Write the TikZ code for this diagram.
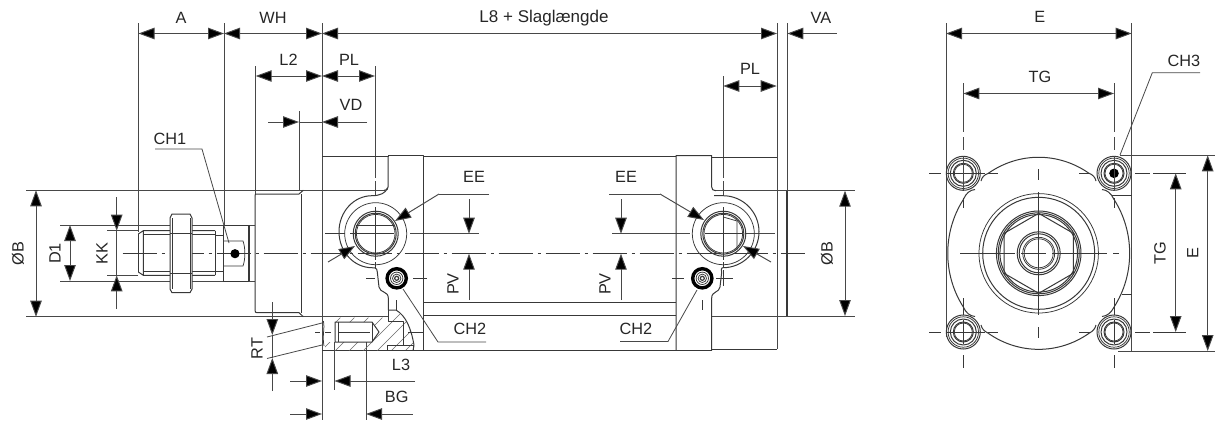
\documentclass[tikz,border=0pt]{standalone}
\usepackage{fontspec}
\setmainfont{Liberation Sans}
\usetikzlibrary{arrows.meta}
\definecolor{ink}{HTML}{383838}
\definecolor{dimink}{HTML}{484848}
\tikzset{
  outline/.style={draw=ink,line width=1pt,line join=round},
  thin line/.style={draw=ink,line width=0.75pt},
  extline/.style={draw=dimink,line width=0.95pt},
  dimline/.style={draw=dimink,line width=0.95pt,fill=none},
  dimboth/.style={dimline,{Triangle[length=16pt,width=11.5pt,fill=black]}-{Triangle[length=16pt,width=11.5pt,fill=black]}},
  dimto/.style={dimline,-{Triangle[length=16pt,width=11.5pt,fill=black]}},
  leader/.style={draw=dimink,line width=0.8pt},
  centre/.style={draw=ink,line width=0.8pt,dash pattern=on 34pt off 5pt on 3pt off 5pt},
  axisdash/.style={draw=ink,line width=0.8pt,dash pattern=on 20pt off 5pt on 8pt off 5pt},
  hatchline/.style={draw=ink!75,line width=0.55pt},
  lbl/.style={font=\fontsize{16.3}{17}\selectfont,text=black!85,inner sep=0pt},
  lblv/.style={lbl,rotate=90},
}
\begin{document}
\begin{tikzpicture}[x=1pt,y=-1pt]
\useasboundingbox (0,0) rectangle (1215,421);
\fill[white] (0,0) rectangle (1215,421);

% ---------- extension lines, side view
\draw[extline] (138.5,23) -- (138.5,232);
\draw[extline] (224,23) -- (224,225);
\draw[extline] (322,23) -- (322,420);
\draw[extline] (777,23) -- (777,349);
\draw[extline] (787,23) -- (787,190);
\draw[extline] (255.7,66) -- (255.7,194);
\draw[extline] (299,111) -- (299,190);
\draw[extline] (375,66) -- (375,178) (375,181) -- (375,196);
\draw[extline] (723.3,76) -- (723.3,178) (723.3,181) -- (723.3,196);
\draw[extline] (26,190.3) -- (385,190.3);
\draw[extline] (26,316.7) -- (388,316.7);
\draw[extline] (60,225) -- (170,225) (192,225) -- (255,225);
\draw[extline] (60,281) -- (170,281) (192,281) -- (255,281);
\draw[extline] (107,230.7) -- (138,230.7) (107,275.3) -- (138,275.3);
\draw[extline] (714,190.7) -- (855,190.7);
\draw[extline] (712,316) -- (855,316);

% ---------- axis
\draw[centre] (122.7,253.7) -- (805,253.7);
\draw[axisdash] (325,233.7) -- (372,233.7);
\draw[extline] (410,233.7) -- (479,233.7);
\draw[extline] (612,233.7) -- (690,233.7);
\draw[extline] (745,233.7) -- (775,233.7);
\draw[extline] (366,342) -- (366,420);
\draw[thin line] (375,207) -- (375,260) (375,262) -- (375,268);
\draw[thin line] (723.3,207) -- (723.3,260) (723.3,262) -- (723.3,268);
\draw[thin line] (357,233.7) -- (394,233.7);
\draw[thin line] (705,233.7) -- (742,233.7);
\draw[thin line] (366,278.3) -- (375,278.3) (413,278.3) -- (427,278.3);
\draw[thin line] (672,278.3) -- (684,278.3) (716,278.3) -- (733,278.3);
\draw[thin line] (396.7,300) -- (396.7,310) (702.3,300) -- (702.3,310);
\draw[thin line] (723.3,270) -- (723.3,286);

% ---------- rod, nut, flats
\draw[outline] (138.3,234) -- (143.3,230.7) -- (215,230.7) (143.3,230.7) -- (143.3,275.3) (138.3,272) -- (143.3,275.3) -- (215,275.3);
\draw[outline] (138.3,234) -- (138.3,272);
\draw[thin line] (143.3,234) -- (215,234) (143.3,271.7) -- (215,271.7);
\draw[outline] (215,230.7) -- (215,275.3);
\draw[outline] (215,235) -- (223.3,235) (215,271) -- (223.3,271);
\draw[outline,fill=white] (172,214) -- (190,214) -- (192,218) -- (192,289) -- (190,292.7) -- (172,292.7) -- (170,289) -- (170,218) -- cycle;
\draw[thin line] (170,233.3) -- (192,233.3) (170,273.3) -- (192,273.3) (172,218) -- (172,289) (190.5,218) -- (190.5,289);
\draw[outline] (223.3,225) rectangle (248.3,281);
\draw[thin line] (223.3,241) -- (243,241) .. controls (245.5,248) and (245.5,259) .. (243,266) -- (223.3,266);
\fill[black] (235,253.7) circle[radius=4.6];
\draw[draw=ink,line width=1.8pt] (249.3,225) -- (249.3,281);
\draw[outline] (255,196) -- (255,310) .. controls (255,312) and (255.5,312.7) .. (257,312.7) -- (299,312.7) -- (303.3,316.7);
\draw[outline] (255,196) .. controls (255,194.2) and (255.5,194) .. (257,194) -- (299,194) -- (303.3,190.3);
\draw[outline] (301.7,194) -- (301.7,312.7);

% ---------- body, left cap
\draw[outline] (322,156.7) -- (388,156.7) -- (388,155.7) -- (423,155.7) -- (423,350.7) -- (322,350.7);
\draw[outline] (388,156.7) -- (388,187) .. controls (388,189.5) and (387,190.3) .. (384,190.3);
\draw[outline] (387.3,188) .. controls (386,193) and (380,195.7) .. (372,195.7) arc[start angle=-90,end angle=-270,x radius=33,y radius=36] -- (375,268) .. controls (376.5,268) and (377.3,270) .. (377.3,272) -- (379,287) .. controls (380,293) and (388.3,291) .. (388.3,298) -- (388.3,310);
\draw[thin line] (375.7,233.7) circle[radius=31];
\draw[outline] (375.7,233.7) circle[radius=22.5];
\draw[outline] (375.7,233.7) circle[radius=20.5];
\draw[thin line] (375.7,233.7) circle[radius=19.3];
\draw[thin line] (356,225) -- (394,225);

% bolt left
\draw[draw=black,line width=3.4pt] (396.7,278.3) circle[radius=9.6];
\draw[thin line] (396.7,278.3) circle[radius=6.2];
\draw[thin line] (396.7,278.3) circle[radius=4.2];
\draw[draw=ink,line width=1.2pt] (396.7,278.3) circle[radius=2];

% ---------- section
\begin{scope}
\clip (325,317.5) -- (388,317.5) -- (388,311) -- (396,311) .. controls (406,316) and (411,328) .. (414,345) -- (413,350.5) -- (325,350.5) -- (325,342) -- (372,342) -- (379,332) -- (372,322) -- (325,322) -- cycle;
\foreach \hx in {306,320,...,420}
  \draw[hatchline] (\hx,352) -- (\hx+40,312);
\end{scope}
\draw[outline] (388,310) -- (396,310) .. controls (406,316) and (411,328) .. (414,345) -- (413,350.7);
\draw[outline] (388,310) -- (388,321.7) -- (403,321.7) -- (403,345);
\draw[outline] (387,345) rectangle (413,350.7);
\draw[outline] (335,322) -- (372,322) -- (379,332) -- (372,342) -- (335,342) -- cycle;
\draw[thin line] (338,322) -- (338,342) (372,322) -- (372,342);
\draw[thin line] (338,332) -- (370,332);
\draw[thin line] (315,332) -- (320,332) (325,332) -- (331,332) (408,332) -- (423,332);
\draw[thin line] (323.5,321) .. controls (325,328) and (322,336) .. (324,346);
\draw[extline] (334.5,342) -- (334.5,390);

% ---------- tube
\draw[thin line] (423,156.7) -- (676,156.7) (423,302.3) -- (676,302.3) (423,315.7) -- (676,315.7) (423,350) -- (676,350);

% ---------- right cap
\draw[outline] (676,350.5) -- (676,155.7) -- (711.7,155.7) -- (711.7,187) .. controls (711.7,189.5) and (713,190.7) .. (716,190.7);
\draw[outline] (711.7,157) -- (777,157);
\draw[outline] (711.7,350.5) -- (676,350.5);
\draw[outline] (712,349) -- (777,349);
\draw[outline] (714,195.7) -- (723,195.7) arc[start angle=-90,end angle=90,x radius=36,y radius=36] -- (722,268) .. controls (720.5,268.5) and (721.7,270) .. (721.7,272) -- (720,287) .. controls (719,293) and (711.7,291) .. (711.7,298) -- (711.7,350.5);
\draw[thin line] (723.3,233.7) circle[radius=31];
\draw[outline] (723.3,233.7) circle[radius=22.5];
\draw[outline] (723.3,233.7) circle[radius=20.5];
\draw[thin line] (723.3,233.7) circle[radius=19.3];
\draw[thin line] (723.3,217) -- (737,221) -- (737,250);
\draw[draw=ink,line width=1.8pt] (787,190.7) -- (787,316);
\draw[draw=black,line width=3.4pt] (702.3,278.3) circle[radius=9.6];
\draw[thin line] (702.3,278.3) circle[radius=6.2];
\draw[thin line] (702.3,278.3) circle[radius=4.2];
\draw[draw=ink,line width=1.2pt] (702.3,278.3) circle[radius=2];

% ---------- dimensions, side view
\draw[dimboth] (138.5,33.5) -- (224,33.5);
\draw[dimboth] (224,33.5) -- (322,33.5);
\draw[dimboth] (322,33.5) -- (777,33.5);
\draw[dimto] (836.7,33.5) -- (787.3,33.5);
\draw[dimboth] (255.7,76) -- (322,76);
\draw[dimboth] (322,76) -- (375,76);
\draw[dimboth] (723.3,86) -- (776.7,86);
\draw[dimto] (268,122) -- (299,122);
\draw[dimto] (367,122) -- (322,122);
\draw[dimline] (299,122) -- (322,122);
\draw[dimboth] (36,190.3) -- (36,316.7);
\draw[dimboth] (70,225) -- (70,281);
\draw[dimline] (116.7,230) -- (116.7,276);
\draw[dimto] (116.7,197) -- (116.7,230.7);
\draw[dimto] (116.7,309) -- (116.7,275.3);
\draw[dimline] (272.3,335) -- (272.3,358);
\draw[dimto] (272.3,302) -- (272.3,335);
\draw[dimto] (272.3,391) -- (272.3,358);
\draw[leader] (267,337) -- (322,323) (267,358.5) -- (322,345);
\draw[dimto] (290,381) -- (322,381);
\draw[dimto] (415,381) -- (334.5,381);
\draw[dimto] (290,414) -- (322,414);
\draw[dimto] (412.7,414) -- (366,414);
\draw[dimto] (469,199) -- (469,233.7);
\draw[dimto] (469,300) -- (469,253.7);
\draw[dimto] (621,199) -- (621,233.7);
\draw[dimto] (621,300) -- (621,253.7);
\draw[dimboth] (845,190.7) -- (845,316);
\draw[leader] (155,149) -- (202,149) -- (229,243);
\draw[leader] (489,194) -- (439,194);
\draw[dimto] (439,194) -- (395,221);
\draw[dimto] (328,262) -- (355,246);
\draw[leader] (486,342) -- (438,342) -- (403,289);
\draw[leader] (609,194) -- (660,194);
\draw[dimto] (660,194) -- (704,220);
\draw[dimto] (771,262) -- (743,246);
\draw[leader] (620,341.5) -- (668,341.5) -- (697,290);

% ---------- end view
\def\cx{1038.7}\def\cy{253.3}
\draw[extline] (946,23) -- (946,337);
\draw[extline] (1131.7,23) -- (1131.7,351);
\draw[extline] (1120,155.3) -- (1215,155.3);
\draw[extline] (1118,351) -- (1215,351);
\draw[thin line] (1112,195.3) -- (1131.7,195.3) (1122,294) -- (1131.7,294);
% outer form
\draw[outline] (988.3,173.3) arc[start angle=236.4,end angle=303.6,x radius=91,y radius=96];
\draw[outline] (988.3,333.3) arc[start angle=123.6,end angle=56.4,x radius=91,y radius=96];
\draw[outline] (963.3,199.6) arc[start angle=214,end angle=146,x radius=91,y radius=96];
\draw[outline] (1114.1,199.6) arc[start angle=-34,end angle=34,x radius=91,y radius=96];
\draw[outline] (988.3,173.3) .. controls (984,175) and (982,177) .. (981,181);
\draw[outline] (1089.1,173.3) .. controls (1093,175) and (1095,177) .. (1096,181);
\draw[outline] (988.3,333.3) .. controls (984,331) and (982,329) .. (981,325);
\draw[outline] (1089.1,333.3) .. controls (1093,331) and (1095,329) .. (1096,325);
\draw[outline] (963.3,199.6) .. controls (966,193) and (970,190) .. (975,189.5);
\draw[outline] (1114.1,199.6) .. controls (1111,193) and (1107,190) .. (1102,189.5);
\draw[outline] (963.3,307) .. controls (966,313) and (970,316) .. (975,316.5);
\draw[outline] (1114.1,307) .. controls (1111,313) and (1107,316) .. (1102,316.5);
% lugs
\foreach \bx/\by in {963.3/173.3,1114/173.3,963.3/332,1114/332}{
  \draw[outline] (\bx,\by) circle[radius=17];
  \draw[thin line] (\bx,\by) circle[radius=15.2];
  \draw[outline] (\bx,\by) circle[radius=13];
  \draw[outline] (\bx,\by) circle[radius=10];
  \draw[thin line] (\bx,\by) circle[radius=9];
}
\fill[black] (1114,173.3) circle[radius=4.8];
\draw[thin line] (\cx,\cy) circle[radius=59.7];
\draw[outline] (\cx,\cy) circle[radius=56];
\draw[outline] (\cx,\cy) circle[radius=42.3];
\draw[outline] (\cx,\cy) circle[radius=40.5];
\draw[outline] (\cx,\cy) circle[radius=38.8];
\draw[outline] (1038.7,213.3) -- (1073.3,233.3) -- (1073.3,273.3) -- (1038.7,293.3) -- (1004.1,273.3) -- (1004.1,233.3) -- cycle;
\draw[outline] (\cx,\cy) circle[radius=21.5];
\draw[outline] (\cx,\cy) circle[radius=19.5];
\draw[thin line] (\cx,\cy) circle[radius=16];
\draw[thin line] (\cx,\cy) circle[radius=14.5];
% centre lines
\draw[thin line,dash pattern=on 55pt off 6pt on 25pt off 6pt] (960,253.3) -- (1119,253.3);
\draw[thin line] (1038.7,169) -- (1038.7,180) (1038.7,192) -- (1038.7,315) (1038.7,327) -- (1038.7,338);
\draw[thin line] (929,173.3) -- (941,173.3) (946,173.3) -- (985,173.3) (988,173.3) -- (998,173.3);
\draw[thin line] (1079,173.3) -- (1090,173.3) (1135,173.3) -- (1150,173.3) (1153,173.3) -- (1186,173.3);
\draw[thin line] (929,332) -- (941,332) (946,332) -- (985,332) (988,332) -- (998,332);
\draw[thin line] (1079,332) -- (1090,332) (1135,332) -- (1150,332) (1153,332) -- (1186,332);
\draw[extline] (963.3,83) -- (963.3,131.7) (963.3,137) -- (963.3,150) (963.3,156) -- (963.3,190);
\draw[extline] (1114,83) -- (1114,131.7) (1114,137) -- (1114,150) (1114,156) -- (1114,190);
\draw[thin line] (963.3,198) -- (963.3,208) (1114,198) -- (1114,208);
\draw[thin line] (963.3,298) -- (963.3,315) (963.3,320) -- (963.3,344) (963.3,355) -- (963.3,368);
\draw[thin line] (1114,298) -- (1114,315) (1114,320) -- (1114,344) (1114,355) -- (1114,368);
% end-view dimensions
\draw[dimboth] (946,33.5) -- (1131.7,33.5);
\draw[dimboth] (963.3,93.5) -- (1114,93.5);
\draw[dimboth] (1175.7,173.3) -- (1175.7,332);
\draw[dimboth] (1207.7,155.3) -- (1207.7,351);
\draw[leader] (1200,72.7) -- (1152.3,72.7) -- (1120,155);

% ---------- labels
\node[lbl] (lA) at (181,18) {A};
\node[lbl] (lWH) at (273,18) {WH};
\node[lbl,font=\fontsize{17}{18}\selectfont] (lL8) at (544,18.5) {L8 + Slaglængde};
\node[lbl] (lVA) at (821,18) {VA};
\node[lbl] (lL2) at (288.5,60) {L2};
\node[lbl] (lPLa) at (349,60) {PL};
\node[lbl] (lPLb) at (750,69) {PL};
\node[lbl] (lVD) at (351,105) {VD};
\node[lbl] (lCH1) at (170,139) {CH1};
\node[lbl] (lEEa) at (474,177) {EE};
\node[lbl] (lEEb) at (626,177) {EE};
\node[lblv] (lPVa) at (453,284) {PV};
\node[lblv] (lPVb) at (605,284) {PV};
\node[lbl] (lCH2a) at (470,329) {CH2};
\node[lbl] (lCH2b) at (636,329) {CH2};
\node[lbl] (lL3) at (401,364.5) {L3};
\node[lbl] (lBG) at (396.7,397) {BG};
\node[lblv] (lRT) at (257,348.5) {RT};
\node[lblv] (lBa) at (18,253.5) {ØB};
\node[lblv] (lD1) at (55,253.5) {D1};
\node[lblv] (lKK) at (102,253.5) {KK};
\node[lblv] (lBb) at (827,253.5) {ØB};
\node[lbl] (lE) at (1039.7,17) {E};
\node[lbl] (lTGa) at (1040,77) {TG};
\node[lbl] (lCH3) at (1184,61) {CH3};
\node[lblv] (lTGb) at (1160,253.5) {TG};
\node[lblv] (lEb) at (1192.7,253.5) {E};
\end{tikzpicture}
\end{document}
